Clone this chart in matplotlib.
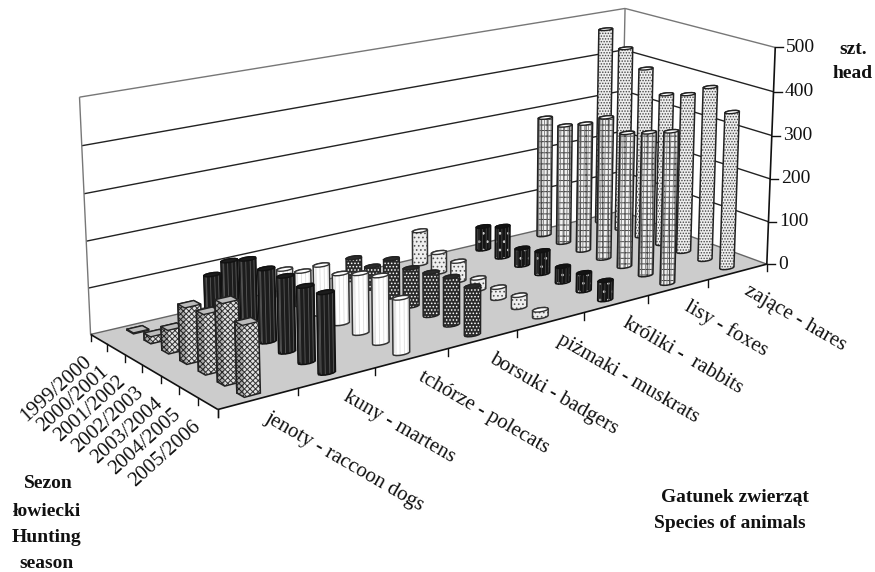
import numpy as np
import matplotlib
matplotlib.use("Agg")
import matplotlib.pyplot as plt
from matplotlib.patches import Polygon

plt.rcParams["font.family"] = ["Liberation Serif", "DejaVu Serif"]
plt.rcParams["hatch.linewidth"] = 0.7

seasons = ["1999/2000", "2000/2001", "2001/2002", "2002/2003", "2003/2004", "2004/2005", "2005/2006"]
species = ["jenoty - raccoon dogs", "kuny - martens", "tchórze - polecats", "borsuki - badgers",
           "piżmaki - muskrats", "króliki -  rabbits", "lisy - foxes", "zające - hares"]
z_ticks = [0, 100, 200, 300, 400, 500]

jenoty = [2, 15, 50, 118, 125, 168, 145]
kuny = [84, 134, 157, 156, 160, 159, 166]
tchorze = [60, 75, 108, 109, 129, 144, 117]
borsuki = [50, 50, 86, 85, 95, 105, 104]
pizmaki = [78, 46, 45, 26, 25, 27, 15]
kroliki = [54, 73, 40, 53, 36, 41, 43]
lisy = [283, 280, 300, 330, 310, 327, 345]
zajace = [468, 436, 402, 356, 371, 402, 360]
values = [jenoty, kuny, tchorze, borsuki, pizmaki, kroliki, lisy, zajace]

# wyglad serii: wypelnienie, kreskowanie, kolor kreskowania, kontur, zebra
styles = [
    ("#e2e2e2", "xxxxxx", "#333333", "#222222", None),
    ("#1c1c1c", None, "#1c1c1c", "#111111", "#5a5a5a"),
    ("#ffffff", None, "#ffffff", "#333333", "#dddddd"),
    ("#2b2b2b", ".....", "#ffffff", "#222222", None),
    ("#eeeeee", "....", "#555555", "#333333", None),
    ("#141414", "..", "#d0d0d0", "#111111", "#444444"),
    ("#f2f2f2", "+++", "#444444", "#222222", "#777777"),
    ("#eeeeee", "......", "#444444", "#222222", None),
]

nx, ny, zmax = len(species), len(seasons), z_ticks[-1]

# rogi skrzynki wykresu: (x, y, z) -> piksele
world = [(0, 0, 0), (nx, 0, 0), (nx, ny, 0), (0, ny, 0), (0, 0, zmax), (nx, 0, zmax), (nx, ny, zmax)]
pixel = [(90, 335), (623, 210), (765, 265), (218, 409), (80, 97), (623, 9), (777, 47)]

rows = []
for (X, Y, Z), (u, v) in zip(world, pixel):
    w = [X / nx, Y / ny, Z / zmax, 1]
    u, v = u / 500, v / 500
    rows.append(w + [0, 0, 0, 0] + [-u * a for a in w])
    rows.append([0, 0, 0, 0] + w + [-v * a for a in w])
P = np.linalg.svd(np.array(rows))[2][-1].reshape(3, 4)


def project(x, y, z):
    h = P @ np.array([np.asarray(x) / nx, np.asarray(y) / ny, np.asarray(z) / zmax, np.ones_like(x)], dtype=float)
    return np.column_stack([h[0] / h[2] * 500, h[1] / h[2] * 500])


def hull(pts):
    pts = sorted(map(tuple, pts))

    def half(seq):
        out = []
        for p in seq:
            while len(out) > 1 and np.cross(np.subtract(out[-1], out[-2]), np.subtract(p, out[-1])) <= 0:
                out.pop()
            out.append(p)
        return out[:-1]

    return half(pts) + half(pts[::-1])


fig = plt.figure(figsize=(8.75, 5.72), dpi=100)
ax = fig.add_axes([0, 0, 1, 1])
ax.set_xlim(0, 875)
ax.set_ylim(572, 0)
ax.axis("off")


def edge(a, b, color="#222222", lw=1.0, zo=2):
    q = project([a[0], b[0]], [a[1], b[1]], [a[2], b[2]])
    ax.plot(q[:, 0], q[:, 1], color=color, lw=lw, zorder=zo, solid_capstyle="butt")


# podloga
ax.add_patch(Polygon(project([0, nx, nx, 0], [0, 0, ny, ny], [0, 0, 0, 0]), fc="#cccccc", ec="none", zorder=1))
edge((0, 0, 0), (nx, 0, 0), "#666666")
edge((nx, 0, 0), (nx, ny, 0), "#666666")
edge((0, ny, 0), (nx, ny, 0), "#111111", 1.2)
edge((0, 0, 0), (0, ny, 0), "#111111", 1.2)

# sciany i siatka
for z in z_ticks[1:]:
    col = "#777777" if z == zmax else "#222222"
    edge((0, 0, z), (nx, 0, z), col)
    edge((nx, 0, z), (nx, ny, z), col)
edge((0, 0, 0), (0, 0, zmax), "#777777")
edge((nx, 0, 0), (nx, 0, zmax), "#777777")
edge((nx, ny, 0), (nx, ny, zmax), "#111111", 1.2, 30)

# os pionowa
for z in z_ticks:
    q = project([nx], [ny], [z])[0]
    ax.plot([q[0], q[0] + 8], [q[1], q[1]], color="#111111", lw=1.0, zorder=30)
    ax.text(q[0] + 11, q[1], str(z), fontsize=14, ha="left", va="center", color="#111111")

# podzialki na podlodze
for i in range(nx + 1):
    q = project([i], [ny], [0])[0]
    ax.plot([q[0], q[0]], [q[1], q[1] + 7], color="#111111", lw=1.0, zorder=2)
for j in range(ny + 1):
    q = project([0], [j], [0])[0]
    ax.plot([q[0], q[0]], [q[1], q[1] + 7], color="#111111", lw=1.0, zorder=2)

# slupki: od tylu do przodu
order = 5
for i in range(nx - 1, -1, -1):
    fc, hatch, hc, ec, rib = styles[i]
    for j in range(ny):
        order += 1
        cx, cy, val = i + 0.5, j + 0.5, values[i][j]
        if i == 0:
            t = np.radians([45, 135, 225, 315])
            rx, ry = 0.1 * np.sqrt(2), 0.19 * np.sqrt(2)
        else:
            t = np.radians(np.arange(0, 360, 30))
            rx, ry = 0.108, 0.15
        rx_pts, ry_pts = cx + rx * np.cos(t), cy + ry * np.sin(t)
        low = project(rx_pts, ry_pts, np.zeros_like(t))
        top = project(rx_pts, ry_pts, np.full_like(t, val, dtype=float))
        body = hull(np.vstack([low, top]))
        ax.add_patch(Polygon(body, fc=fc, ec=hc, hatch=hatch, lw=0, zorder=order))
        mid = low.mean(axis=0)
        if rib:
            for a, b in zip(low, top):
                if a[1] > mid[1] - 0.5:
                    ax.plot([a[0], b[0]], [a[1], b[1]], color=rib, lw=0.6, zorder=order)
        if i == 0:
            # lewa sciana prostopadloscianu ciemniejsza, krawedz z przodu
            side = np.array([low[1], low[2], top[2], top[1]])
            ax.add_patch(Polygon(side, fc="#aaaaaa", ec="#222222", hatch=hatch, lw=0, zorder=order))
            ax.plot([low[2][0], top[2][0]], [low[2][1], top[2][1]], color=ec, lw=1.0, zorder=order)
        ax.add_patch(Polygon(body, fc="none", ec=ec, lw=1.1, zorder=order))
        if i == 0:
            ax.add_patch(Polygon(top, fc="#bbbbbb", ec=ec, lw=1.0, zorder=order))
        else:
            ax.add_patch(Polygon(top, fc=fc if i in (1, 3, 5) else "#ffffff", ec=ec, lw=1.0, zorder=order))

# etykiety
for i, name in enumerate(species):
    q = project([i + 0.5], [ny], [0])[0]
    ax.text(q[0] + 8, q[1] + 18, name, fontsize=15, rotation=-30, rotation_mode="anchor",
            ha="left", va="center", color="#111111")
for j, name in enumerate(seasons):
    q = project([0], [j + 0.5], [0])[0]
    ax.text(q[0] - 10, q[1] + 20, name, fontsize=15, rotation=42, rotation_mode="anchor",
            ha="right", va="center", color="#111111")

bold = dict(fontsize=14, fontweight="bold", ha="center", va="center", color="#111111")
ax.text(853, 50, "szt.", **bold)
ax.text(853, 74, "head", **bold)
ax.text(48, 484, "Sezon", **bold)
ax.text(47, 511, "łowiecki", **bold)
ax.text(47, 537, "Hunting", **bold)
ax.text(47, 563, "season", **bold)
ax.text(735, 498, "Gatunek zwierząt", **bold)
ax.text(730, 524, "Species of animals", **bold)

fig.savefig("out.png", dpi=100)
